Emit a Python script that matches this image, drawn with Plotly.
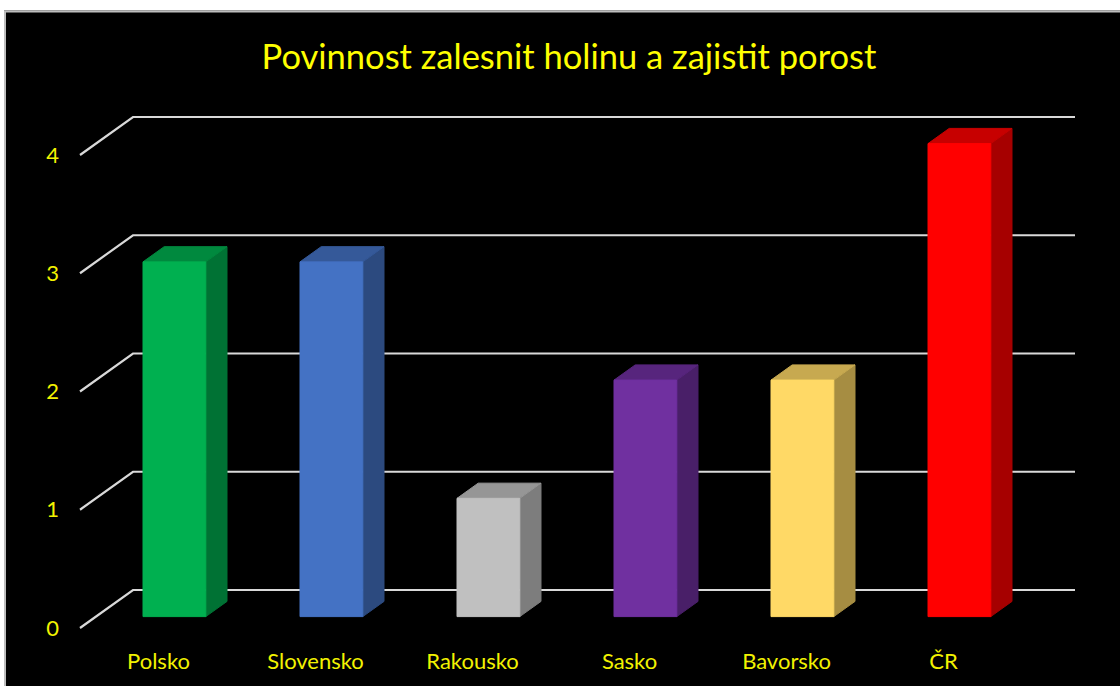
import plotly.graph_objects as go

# ---- data ----
categories = ["Polsko", "Slovensko", "Rakousko", "Sasko", "Bavorsko", "ČR"]
values = [3, 3, 1, 2, 2, 4]
bar_colors = ["#00B050", "#4472C4", "#C0C0C0", "#7030A0", "#FFD966", "#FF0000"]
y_ticks = [0, 1, 2, 3, 4]
title_text = "Povinnost zalesnit holinu a zajistit porost"

# ---- layout geometry ----
W, H = 1120, 686
ML, MR, MT, MB = 64, 0, 95, 40
PX_PER_CAT = 157.0
PX_PER_VAL = 118.25
X0_PX = 158.5      # pixel of category 0 on the front plane
Y0_PX = 628.0      # pixel of value 0 on the front plane
DX = 53.0 / PX_PER_CAT   # depth shift (category units) front->back wall
DY = 38.0 / PX_PER_VAL   # depth shift (value units) front->back wall
HALF_W = 0.2
D_FRONT, D_BACK = 0.3, 0.7

x_range = [(ML - X0_PX) / PX_PER_CAT, (W - MR - X0_PX) / PX_PER_CAT]
y_range = [(Y0_PX - (H - MB)) / PX_PER_VAL, (Y0_PX - MT) / PX_PER_VAL]


def shade(hex_color, f):
    h = hex_color.lstrip("#")
    r, g, b = (int(h[i:i + 2], 16) for i in (0, 2, 4))
    return "rgb(%d,%d,%d)" % (round(r * f), round(g * f), round(b * f))


fig = go.Figure()

# back wall + left wall gridlines
x_left = -0.5
x_right = len(categories) - 0.5
for v in y_ticks:
    fig.add_trace(go.Scatter(
        x=[x_left, x_left + DX, x_right + DX],
        y=[v, v + DY, v + DY],
        mode="lines", line=dict(color="#D9D9D9", width=2.2),
        hoverinfo="skip", showlegend=False))

# 3D bars
for i, (cat, v, col) in enumerate(zip(categories, values, bar_colors)):
    fx0 = i - HALF_W + D_FRONT * DX
    fx1 = i + HALF_W + D_FRONT * DX
    fy0 = D_FRONT * DY
    fy1 = v + D_FRONT * DY
    bdx = (D_BACK - D_FRONT) * DX
    bdy = (D_BACK - D_FRONT) * DY
    top_col = shade(col, 0.78)
    side_col = shade(col, 0.65)
    # side face
    fig.add_trace(go.Scatter(
        x=[fx1, fx1 + bdx, fx1 + bdx, fx1, fx1],
        y=[fy0, fy0 + bdy, fy1 + bdy, fy1, fy0],
        fill="toself", fillcolor=side_col, mode="lines",
        line=dict(color=side_col, width=1), hoverinfo="skip", showlegend=False))
    # top face
    fig.add_trace(go.Scatter(
        x=[fx0, fx1, fx1 + bdx, fx0 + bdx, fx0],
        y=[fy1, fy1, fy1 + bdy, fy1 + bdy, fy1],
        fill="toself", fillcolor=top_col, mode="lines",
        line=dict(color=top_col, width=1), hoverinfo="skip", showlegend=False))
    # front face
    fig.add_trace(go.Scatter(
        x=[fx0, fx1, fx1, fx0, fx0],
        y=[fy0, fy0, fy1, fy1, fy0],
        fill="toself", fillcolor=col, mode="lines",
        line=dict(color=col, width=1), hoverinfo="skip", showlegend=False,
        name=cat))

pw = W - ML - MR
ph = H - MT - MB


def xp(px):
    return (px - ML) / pw


def yp(py):
    return (H - MB - py) / ph


shapes = [
    dict(type="rect", xref="paper", yref="paper", x0=xp(-5), x1=xp(W + 5),
         y0=yp(10.5), y1=yp(-5), fillcolor="white", line=dict(width=0), layer="above"),
    dict(type="rect", xref="paper", yref="paper", x0=xp(-5), x1=xp(4),
         y0=yp(H + 5), y1=yp(-5), fillcolor="white", line=dict(width=0), layer="above"),
    dict(type="line", xref="paper", yref="paper", x0=xp(4), x1=xp(W + 5),
         y0=yp(11.5), y1=yp(11.5), line=dict(color="#BDBDBD", width=2), layer="above"),
    dict(type="line", xref="paper", yref="paper", x0=xp(5), x1=xp(5),
         y0=yp(11), y1=yp(H + 5), line=dict(color="#BDBDBD", width=2), layer="above"),
]

fig.update_layout(
    width=W, height=H,
    margin=dict(l=ML, r=MR, t=MT, b=MB, pad=0),
    paper_bgcolor="black", plot_bgcolor="black",
    font=dict(family="Lato, 'Open Sans', sans-serif", color="#F2F200"),
    title=dict(text=title_text, x=569 / W, xanchor="center", xref="container",
               y=1 - 57 / H, yanchor="middle", yref="container",
               font=dict(size=34.5, color="#FFFF00", family="Lato, sans-serif")),
    xaxis=dict(range=x_range, tickvals=list(range(len(categories))), ticktext=categories,
               showgrid=False, zeroline=False, showline=False, ticks="",
               tickfont=dict(size=22, color="#F2F200"), fixedrange=True),
    yaxis=dict(range=y_range, tickvals=y_ticks, ticktext=[str(t) for t in y_ticks],
               showgrid=False, zeroline=False, showline=False, ticks="",
               ticklabelstandoff=4,
               tickfont=dict(size=22, color="#F2F200"), fixedrange=True),
    shapes=shapes,
    showlegend=False,
)

fig.write_html(
    "out.html",
    config={"displayModeBar": False},
    post_script="document.body.style.margin='0px';document.body.style.padding='0px';",
)
